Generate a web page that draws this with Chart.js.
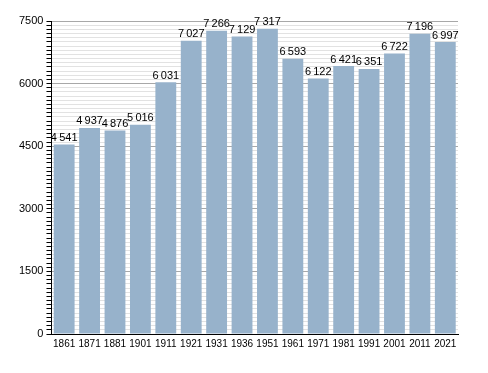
<!DOCTYPE html>
<html>
<head>
<meta charset="utf-8">
<script src="https://cdn.jsdelivr.net/npm/chart.js@4/dist/chart.umd.min.js"></script>
<style>
  body { margin: 0; background: #fff; }
  #wrap { width: 488px; height: 373px; }
</style>
</head>
<body>
<div id="wrap"><canvas id="popChart" width="488" height="373"></canvas></div>
<script>
const years = ['1861', '1871', '1881', '1901', '1911', '1921', '1931', '1936', '1951', '1961', '1971', '1981', '1991', '2001', '2011', '2021'];
const population = [4541, 4937, 4876, 5016, 6031, 7027, 7266, 7129, 7317, 6593, 6122, 6421, 6351, 6722, 7196, 6997];
const yTicks = [0, 1500, 3000, 4500, 6000, 7500];

// value labels above each bar, with thin space as thousands separator
const barLabels = {
    id: 'barLabels',
    afterDatasetsDraw(chart) {
        const ctx = chart.ctx;
        const meta = chart.getDatasetMeta(0);
        ctx.save();
        ctx.font = '11px "Liberation Sans", Arial, sans-serif';
        ctx.fillStyle = '#000';
        ctx.textAlign = 'center';
        ctx.textBaseline = 'bottom';
        meta.data.forEach((bar, i) => {
            const v = population[i];
            const txt = Math.floor(v / 1000) + '\u2009' + String(v % 1000).padStart(3, '0');
            ctx.fillText(txt, bar.x, bar.y - 1);
        });
        ctx.restore();
    }
};

const ctx = document.getElementById('popChart').getContext('2d');
new Chart(ctx, {
    type: 'bar',
    data: {
        labels: years,
        datasets: [{
            data: population,
            backgroundColor: '#97b2cb',
            borderWidth: 0,
            barPercentage: 0.82,
            categoryPercentage: 1
        }]
    },
    options: {
        responsive: false,
        animation: false,
        layout: { padding: { left: 16, right: 30, top: 21, bottom: 19 } },
        plugins: { legend: { display: false }, tooltip: { enabled: false } },
        scales: {
            x: {
                offset: true,
                grid: { display: false, drawTicks: false },
                border: { color: '#000', width: 1 },
                ticks: {
                    color: '#000',
                    padding: 4,
                    maxRotation: 0,
                    autoSkip: false,
                    font: { family: '"Liberation Sans", Arial, sans-serif', size: 10 }
                }
            },
            y: {
                min: 0,
                max: 7500,
                afterBuildTicks(axis) {
                    const t = [];
                    for (let v = 0; v <= 7500; v += 100) t.push({ value: v });
                    axis.ticks = t;
                },
                grid: {
                    color: c => yTicks.includes(c.tick.value) ? '#a8a8a8' : '#e2e2e2',
                    tickColor: '#000',
                    tickLength: 5,
                    drawTicks: true
                },
                border: { color: '#000', width: 1 },
                ticks: {
                    color: '#000',
                    padding: 3,
                    autoSkip: false,
                    font: { family: '"Liberation Sans", Arial, sans-serif', size: 11 },
                    callback: v => yTicks.includes(v) ? String(v) : ''
                }
            }
        }
    },
    plugins: [barLabels]
});
</script>
</body>
</html>
